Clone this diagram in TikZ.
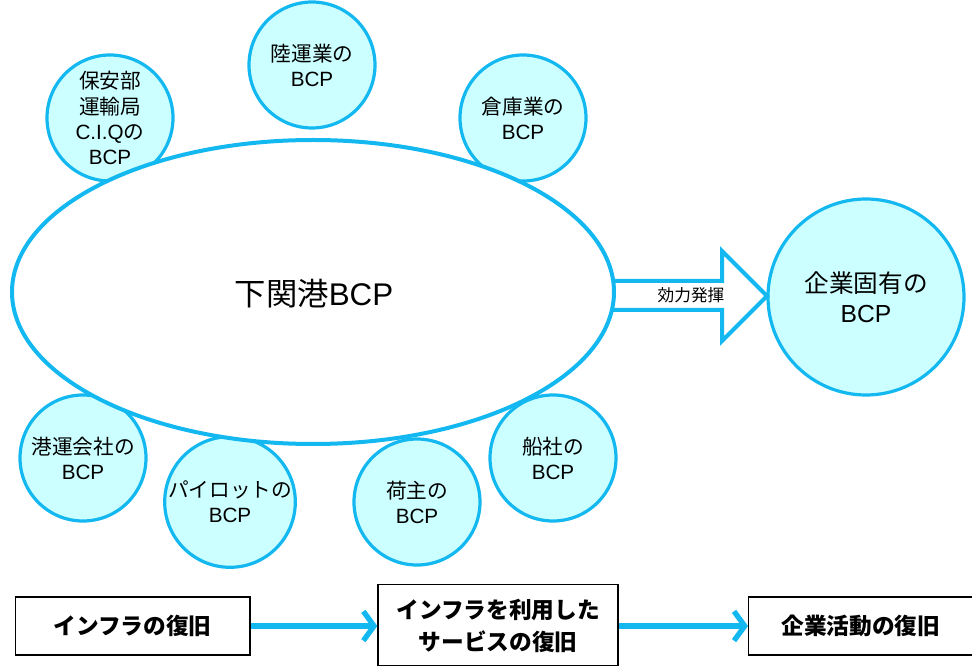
\documentclass[tikz,border=0pt]{standalone}
\usepackage{fontspec}
\setmainfont{Noto Sans CJK JP}
\newfontfamily\lat{Liberation Sans}
\usetikzlibrary{arrows.meta}
\definecolor{cyanline}{RGB}{20,184,240}
\definecolor{cyanfill}{RGB}{204,255,255}
\newcommand{\bcpx}{{\lat BCP}}
\tikzset{
  bcp/.style={circle, draw=cyanline, fill=cyanfill, line width=2.4pt, minimum size=#1, inner sep=0pt, align=center, font=\fontsize{15.5}{18.8}\selectfont},
  bcp/.default=94.5pt,
  stagebox/.style={draw=black, line width=1pt, fill=white, align=center, font=\fontsize{17}{24}\selectfont\bfseries, inner sep=0pt},
  flow/.style={draw=cyanline, line width=4.5pt, -{Straight Barb[length=8pt,width=22pt,line width=4pt]}}
}
\begin{document}
\begin{tikzpicture}[x=0.75pt,y=-0.75pt]
\useasboundingbox (0,0) rectangle (972,666);
% surrounding circles
\node[bcp] (hoan) at (110,118) {保安部\\運輸局\\{\lat C.I.Q}の\\\bcpx};
\node[bcp] (riku) at (312,65) {陸運業の\\\bcpx};
\node[bcp] (soko) at (523,118) {倉庫業の\\\bcpx};
\node[bcp] (koun) at (83,458) {港運会社の\\\bcpx};
\node[bcp] (pilot) at (230,502) {パイロットの\\\bcpx};
\node[bcp] (ninushi) at (417,502) {荷主の\\\bcpx};
\node[bcp] (sensha) at (553,458) {船社の\\\bcpx};
\node[bcp=147pt, font=\fontsize{18.5}{22.5}\selectfont] (kigyo) at (866,297) {企業固有の\\\bcpx};
% big arrow
\coordinate (tip) at (767,296);
\draw[cyanline, line width=3pt, fill=white, line join=miter]
  (580,281) -- (722,281) -- (722,251) -- (tip) -- (722,341) -- (722,310) -- (580,310) -- cycle;
\node[font=\fontsize{12.5}{14}\selectfont] (kouka) at (691,295) {効力発揮};
% main ellipse
\draw[cyanline, line width=3pt, fill=white] (313,292) ellipse [x radius=301, y radius=152];
\node[font=\fontsize{23.5}{26}\selectfont] (main) at (314,294) {下関港{\lat BCP}};
% bottom flow
\node[stagebox, minimum width=176pt, minimum height=43.5pt] (s1) at (132.5,626) {インフラの復旧};
\node[stagebox, minimum width=180pt, minimum height=61pt] (s2) at (498,625.5) {インフラを利用した\\サービスの復旧};
\node[stagebox, minimum width=168pt, minimum height=43.5pt, anchor=west] (s3) at (748,626) {企業活動の復旧};
\draw[flow] (s1.east) -- (s2.west |- s1.east);
\draw[flow] (s2.east |- s3.west) -- (s3.west);
\end{tikzpicture}
\end{document}
